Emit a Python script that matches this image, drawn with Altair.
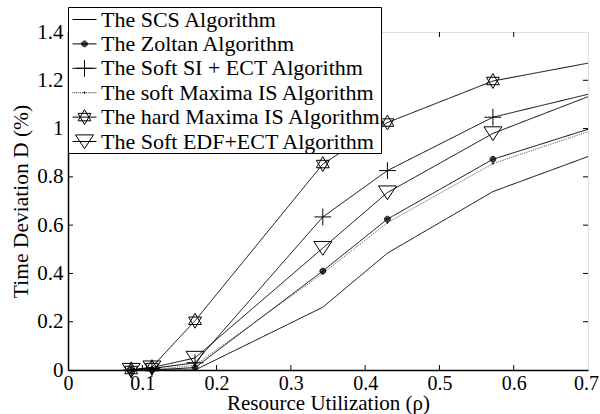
import altair as alt
import pandas as pd

# ---------------- data ----------------
series = [
    "The SCS Algorithm",
    "The Zoltan Algorithm",
    "The Soft SI + ECT Algorithm",
    "The soft Maxima IS Algorithm",
    "The hard Maxima IS Algorithm",
    "The Soft EDF+ECT Algorithm",
]
rho = [0.085, 0.113, 0.171, 0.343, 0.43, 0.572, 0.7]
scs = [0.0, 0.0, 0.0, 0.26, 0.484, 0.739, 0.884]
zoltan = [0.0, 0.0, 0.01, 0.41, 0.625, 0.873, 0.997]
soft_si_ect = [0.0, 0.006, 0.03, 0.634, 0.826, 1.047, 1.142]
soft_maxima = [0.0, 0.0, 0.02, 0.40, 0.61, 0.855, 0.987]
hard_maxima = [0.0, 0.012, 0.204, 0.853, 1.025, 1.197, 1.271]
soft_edf_ect = [0.0, 0.01, 0.05, 0.505, 0.735, 0.98, 1.132]
values_by_series = [scs, zoltan, soft_si_ect, soft_maxima, hard_maxima, soft_edf_ect]

x_tick_values = [0, 0.1, 0.2, 0.3, 0.4, 0.5, 0.6, 0.7]
y_tick_values = [0, 0.2, 0.4, 0.6, 0.8, 1.0, 1.2, 1.4]
x_inner_ticks = [0.1, 0.2, 0.3, 0.4, 0.5, 0.6]
y_inner_ticks = [0.2, 0.4, 0.6, 0.8, 1.0, 1.2]

rows = []
for name, vals in zip(series, values_by_series):
    for i, (r, v) in enumerate(zip(rho, vals)):
        rows.append({"series": name, "rho": r, "value": v, "last": i == len(rho) - 1})
df = pd.DataFrame(rows)

# ---------------- marker paths (unit: sqrt(size)/2 px) ----------------
def circ(r):
    return f"M{r},0A{r},{r} 0 1,1 {-r},0A{r},{r} 0 1,1 {r},0Z"

LINE = "M-1,0H1"
PLUS = "M-0.7,0H0.7M0,-0.7V0.7"
TRI = "M-0.75,-0.55L0.75,-0.55L0,0.6Z"
STAR = "M0,-0.62L0.537,0.31L-0.537,0.31ZM0,0.62L0.537,-0.31L-0.537,-0.31Z"
DOT = circ(0.24) + circ(0.17) + circ(0.1) + circ(0.03)
SMALLDOT = circ(0.06)
DOTTED = "".join(f"M{-1 + k * 0.16:.2f},0H{-1 + k * 0.16 + 0.07:.2f}" for k in range(13))
NONE = "M0,0"

marker_paths = [NONE, DOT, PLUS, SMALLDOT, STAR, TRI]
legend_paths = [LINE, LINE + DOT, LINE + PLUS, DOTTED + SMALLDOT, LINE + STAR, LINE + TRI]

FONT = "Liberation Serif"
W, H = 520, 338

xscale = alt.Scale(domain=[0, 0.7], nice=False, zero=False)
yscale = alt.Scale(domain=[0, 1.4], nice=False, zero=False)

x_axis = alt.Axis(
    values=x_tick_values, format=".1~f", grid=False, ticks=False, tickSize=0,
    labelFont=FONT, labelFontSize=20, labelPadding=3, labelColor="black",
    labelFlush=False, labelOverlap=False,
    labelOffset={"condition": {"test": "datum.value >= 0.69", "value": -2}, "value": 0},
    domainColor="black", domainWidth=1.5,
    title="Resource Utilization (ρ)", titleFont=FONT, titleFontSize=21,
    titleFontWeight="normal", titleColor="black",
    titleY=39, titleBaseline="alphabetic",
)
y_axis = alt.Axis(
    values=y_tick_values, format=".1~f", grid=False, ticks=False, tickSize=0,
    labelFont=FONT, labelFontSize=21, labelPadding=5, labelColor="black",
    labelFlush=False, labelOverlap=False,
    domainColor="black", domainWidth=1.5,
    title="Time Deviation D (%)", titleFont=FONT, titleFontSize=21.5,
    titleFontWeight="normal", titleColor="black",
    titleX=-41, titleY=H / 2, titleBaseline="alphabetic", titleAngle=270,
)

lines = alt.Chart(df).mark_line(strokeWidth=1).encode(
    x=alt.X("rho:Q", scale=xscale, axis=x_axis),
    y=alt.Y("value:Q", scale=yscale, axis=y_axis),
    detail="series:N",
    color=alt.Color("series:N", scale=alt.Scale(domain=series,
                    range=["black", "black", "black", "#444444", "black", "black"]), legend=None),
    strokeDash=alt.StrokeDash("series:N", scale=alt.Scale(domain=series,
                    range=[[1, 0], [1, 0], [1, 0], [1, 1.3], [1, 0], [1, 0]]), legend=None),
)

points = alt.Chart(df).transform_filter(
    "!datum.last && datum.series != 'The SCS Algorithm'"
).mark_point(size=576, filled=False, stroke="black", strokeWidth=1, opacity=1, fill="transparent").encode(
    x=alt.X("rho:Q", scale=xscale, axis=x_axis),
    y=alt.Y("value:Q", scale=yscale, axis=y_axis),
    shape=alt.Shape("series:N", scale=alt.Scale(domain=series, range=marker_paths), legend=None),
)

legend_layer = alt.Chart(df).transform_filter("datum.rho < 0").mark_point(
    size=576, filled=False, stroke="black", strokeWidth=1, opacity=1, fill="transparent"
).encode(
    x=alt.X("rho:Q", scale=xscale, axis=x_axis),
    y=alt.Y("value:Q", scale=yscale, axis=y_axis),
    shape=alt.Shape(
        "series:N",
        scale=alt.Scale(domain=series, range=legend_paths),
        legend=alt.Legend(
            title=None, orient="none", legendX=0, legendY=-25,
            strokeColor="black", fillColor="white", padding=0, cornerRadius=0,
            symbolSize=576, symbolStrokeColor="black", symbolStrokeWidth=1,
            symbolFillColor="transparent", symbolOpacity=1, symbolOffset=4,
            labelFont=FONT, labelFontSize=22, labelColor="black", labelOffset=4,
            labelLimit=400, rowPadding=0.4,
        ),
    ),
)

xt = pd.DataFrame({"rho": x_inner_ticks})
yt = pd.DataFrame({"value": y_inner_ticks})

tick_bottom = alt.Chart(xt).mark_rule(color="black", strokeWidth=1).encode(
    x=alt.X("rho:Q", scale=xscale, axis=x_axis), y=alt.value(H), y2=alt.value(H - 5))
tick_top = alt.Chart(xt).mark_rule(color="black", strokeWidth=1).encode(
    x=alt.X("rho:Q", scale=xscale, axis=x_axis), y=alt.value(0), y2=alt.value(5))
tick_left = alt.Chart(yt).mark_rule(color="black", strokeWidth=1).encode(
    y=alt.Y("value:Q", scale=yscale, axis=y_axis), x=alt.value(0), x2=alt.value(5))
tick_right = alt.Chart(yt).mark_rule(color="black", strokeWidth=1).encode(
    y=alt.Y("value:Q", scale=yscale, axis=y_axis), x=alt.value(W), x2=alt.value(W - 5))

chart = alt.layer(
    lines, points, tick_bottom, tick_top, tick_left, tick_right, legend_layer
).resolve_scale(
    shape="independent"
).properties(
    width=W, height=H,
    autosize=alt.AutoSizeParams(type="none"),
    padding={"left": 68, "top": 32, "right": 12, "bottom": 44},
).configure_view(
    stroke="black", strokeWidth=1
).configure(
    background="white", font=FONT
)

chart.save("out.html", embed_options={"renderer": "svg", "actions": False})
